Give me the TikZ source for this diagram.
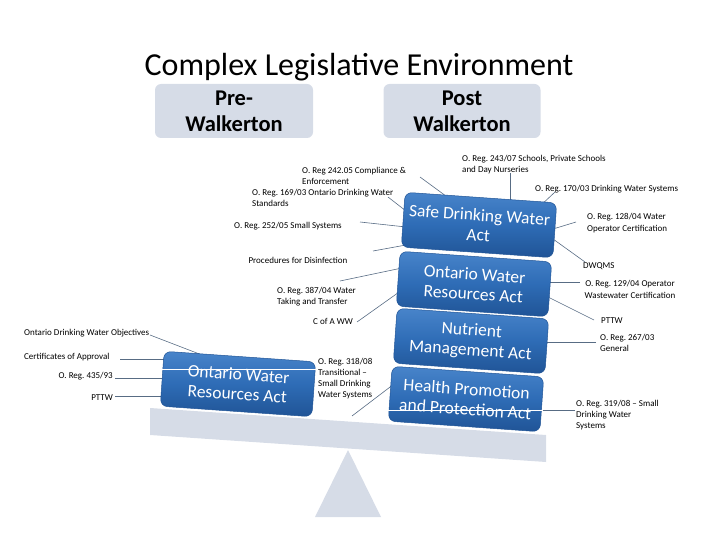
\documentclass[tikz,border=0pt]{standalone}
\usepackage{fontspec}
\setmainfont{Carlito}
\frenchspacing
\definecolor{panel}{RGB}{214,220,231}
\definecolor{boxtop}{RGB}{72,132,202}
\definecolor{boxmid}{RGB}{46,108,182}
\definecolor{boxbot}{RGB}{32,84,150}
\definecolor{connc}{RGB}{88,108,132}
\begin{document}
\begin{tikzpicture}[x=1pt,y=-1pt,
  headbox/.style={rectangle, rounded corners=6pt, fill=panel, minimum width=158pt, minimum height=54pt,
    font=\fontsize{22.5}{26}\selectfont\bfseries, align=center, inner sep=0pt},
  bluebox/.style={rectangle, rounded corners=7pt, minimum width=152pt, minimum height=55pt, rotate=-4,
    top color=boxtop, bottom color=boxbot, middle color=boxmid, draw=boxbot, line width=0.5pt,
    text=white, font=\fontsize{17.5}{20}\selectfont, align=center, inner sep=0pt},
  lbl/.style={inner sep=0pt, font=\fontsize{9}{11}\selectfont, align=left},
  conn/.style={draw=connc, line width=0.6pt},
  whiteline/.style={draw=white, line width=0.8pt}]
\useasboundingbox (0,0) rectangle (720,540);

% title and heads
\node[font=\fontsize{32}{36}\selectfont] (title) at (359,67) {Complex Legislative Environment};
\node[headbox] (pre) at (234,111) {Pre-\\Walkerton};
\node[headbox, minimum width=157pt] (post) at (462,111) {Post\\Walkerton};

% seesaw
\path[fill=panel] (150,408) -- (546,435) -- (546,462) -- (150,435) -- cycle;
\path[fill=panel] (348,450) -- (381,517) -- (315,517) -- cycle;

% label texts
\node[lbl, anchor=north west] (l242) at (302,167) {O. Reg 242.05 Compliance \&\\Enforcement};
\node[lbl, anchor=north west] (l169) at (252,189) {O. Reg. 169/03 Ontario Drinking Water\\Standards};
\node[lbl, anchor=west] (l252) at (234,226) {O. Reg. 252/05 Small Systems};
\node[lbl] (lproc) at (298,260) {Procedures for Disinfection};
\node[lbl, anchor=north west] (l387) at (277,287) {O. Reg. 387/04 Water\\Taking and Transfer};
\node[lbl] (lcaww) at (333,321) {C of A WW};
\node[lbl, anchor=north west] (l318) at (318,358) {O. Reg. 318/08\\Transitional --\\Small Drinking\\Water Systems};
\node[lbl, anchor=north west] (l243) at (462,155) {O. Reg. 243/07 Schools, Private Schools\\and Day Nurseries};
\node[lbl, anchor=west] (l170) at (535,189) {O. Reg. 170/03 Drinking Water Systems};
\node[lbl, anchor=north west, font=\fontsize{9}{12}\selectfont] (l128) at (587,213) {O. Reg. 128/04 Water\\Operator Certification};
\node[lbl, anchor=west] (ldwqms) at (583,266) {DWQMS};
\node[lbl, anchor=north, align=center, font=\fontsize{9}{12}\selectfont] (l129) at (630,280) {O. Reg. 129/04 Operator\\Wastewater Certification};
\node[lbl, anchor=west] (lpttwr) at (601,321) {PTTW};
\node[lbl, anchor=north west] (l267) at (600,334) {O. Reg. 267/03\\General};
\node[lbl, anchor=north west] (l319) at (576,400) {O. Reg. 319/08 -- Small\\Drinking Water\\Systems};
\node[lbl, anchor=west] (lodwo) at (24,333) {Ontario Drinking Water Objectives};
\node[lbl, anchor=west] (lcofa) at (24,357) {Certificates of Approval};
\node[lbl, anchor=east] (l435) at (113,376) {O. Reg. 435/93};
\node[lbl, anchor=east] (lpttwl) at (113,398) {PTTW};

% connector end points
\coordinate (a242) at (420,177);   \coordinate (b242) at (450,199);
\coordinate (a169) at (388,197);   \coordinate (b169) at (406,211);
\coordinate (a252) at (360,222);   \coordinate (b252) at (406,227);
\coordinate (aproc) at (373,251);  \coordinate (bproc) at (406,245);
\coordinate (a387) at (340,281);   \coordinate (b387) at (402,268);
\coordinate (acaww) at (357,322);  \coordinate (bcaww) at (402,290);
\coordinate (a318) at (352,416);   \coordinate (b318) at (394,384);
\coordinate (a243) at (510,173);   \coordinate (b243) at (510,205);
\coordinate (a170) at (555,192);   \coordinate (b170) at (539,207);
\coordinate (a128) at (576,222);   \coordinate (b128) at (553,229);
\coordinate (adwq) at (585,262);   \coordinate (bdwq) at (553,239);
\coordinate (a129) at (580,282);   \coordinate (b129) at (548,282);
\coordinate (apttwr) at (594,320); \coordinate (bpttwr) at (548,297);
\coordinate (a267) at (596,342);   \coordinate (b267) at (545,342);
\coordinate (a319) at (575,410);   \coordinate (b319) at (540,410);
\coordinate (aodwo) at (150,335);  \coordinate (bodwo) at (202,355);
\coordinate (acofa) at (120,359);  \coordinate (bcofa) at (166,359);
\coordinate (a435) at (115,378);   \coordinate (b435) at (164,378);
\coordinate (apttwl) at (115,396); \coordinate (bpttwl) at (164,396);

\foreach \n in {242,169,252,proc,387,caww,318,243,170,128,129,267,319,odwo,cofa,435}
  {\draw[conn] (a\n) -- (b\n);}
\draw[conn] (adwq) -- (bdwq);
\draw[conn] (apttwr) -- (bpttwr);
\draw[conn] (apttwl) -- (bpttwl);

% acts
\node[bluebox] (sdwa) at (479,225) {Safe Drinking Water\\Act};
\node[bluebox] (owrar) at (474,284) {Ontario Water\\Resources Act};
\node[bluebox] (nma) at (471,341) {Nutrient\\Management Act};
\node[bluebox] (hppa) at (466,399) {Health Promotion\\and Protection Act};
\node[bluebox] (owral) at (238,384) {Ontario Water\\Resources Act};

\coordinate (w1a) at (162,369); \coordinate (w1b) at (317,369);
\coordinate (w2a) at (387,410); \coordinate (w2b) at (543,410);
\draw[whiteline] (w1a) -- (w1b);
\draw[whiteline] (w2a) -- (w2b);
\end{tikzpicture}
\end{document}
